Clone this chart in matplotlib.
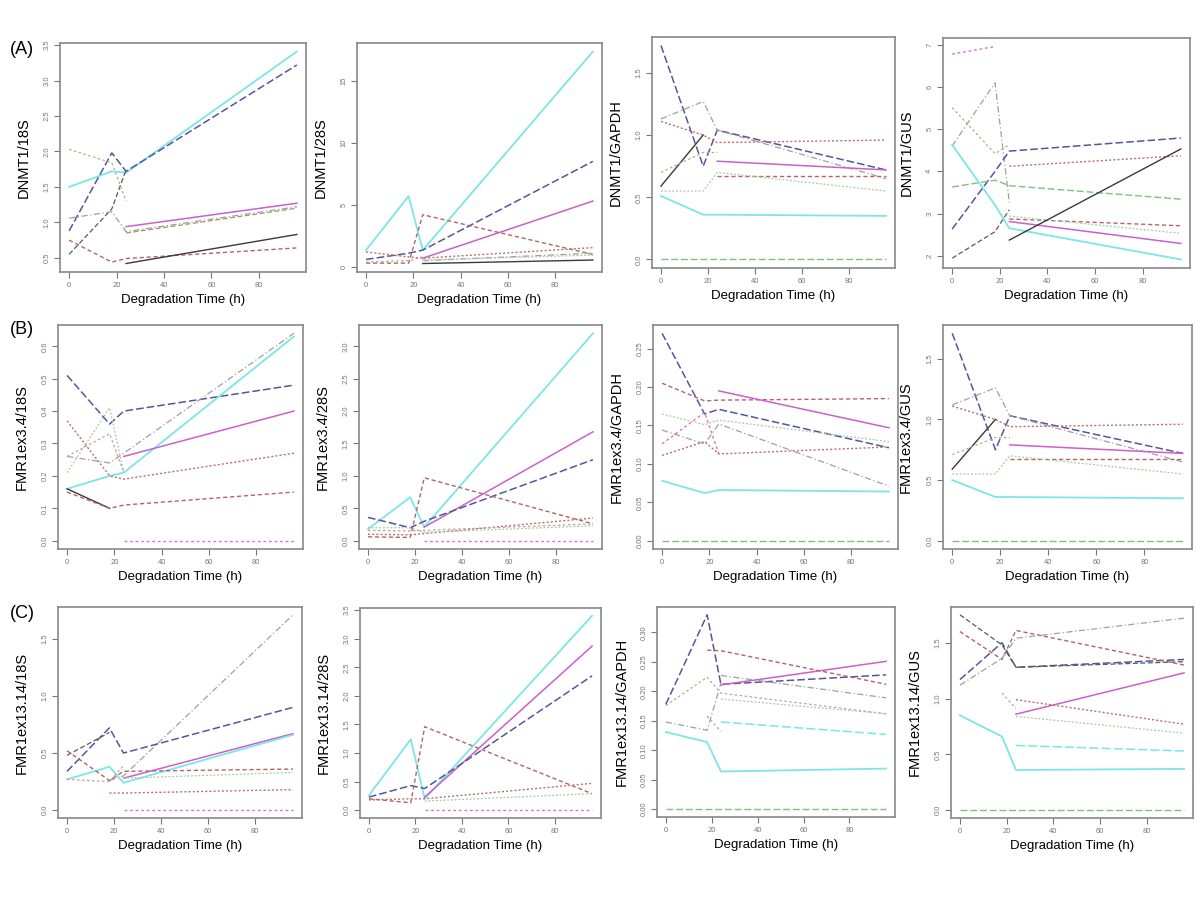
import matplotlib
matplotlib.use("Agg")
import matplotlib.pyplot as plt

plt.rcParams['font.family'] = ['Liberation Sans', 'DejaVu Sans']

# time points (h)
T = [0, 18, 24, 96]
T3 = [0, 18, 24]
T2 = [0, 18]
TL = [24, 96]
TM = [18, 24, 96]

x_ticks = [0, 20, 40, 60, 80]

# ---- row A: DNMT1 ----
dnmt1_18s = [
    ("cyan", T, [1.50, 1.72, 1.70, 3.41]),
    ("navy", T, [0.88, 1.98, 1.72, 3.22]),
    ("black_d", T3, [0.55, 1.19, 1.74]),
    ("gray", T, [1.06, 1.15, 0.87, 1.22]),
    ("tan", T3, [2.03, 1.84, 1.30]),
    ("magenta", TL, [0.94, 1.27]),
    ("olive", TL, [0.85, 1.20]),
    ("red", T, [0.75, 0.44, 0.49, 0.64]),
    ("black", TL, [0.42, 0.83]),
]
dnmt1_28s = [
    ("cyan", T, [1.35, 5.7, 1.35, 17.35]),
    ("navy", T, [0.6, 1.1, 1.35, 8.5]),
    ("magenta", TL, [0.7, 5.3]),
    ("red", T, [0.3, 0.3, 4.2, 1.0]),
    ("red_dot", T, [1.2, 0.8, 0.7, 1.55]),
    ("gray", TL, [0.5, 1.1]),
    ("black", TL, [0.27, 0.55]),
    ("green_dot", TL, [0.55, 0.95]),
    ("tan", T3, [0.4, 0.5, 0.8]),
]
dnmt1_gapdh = [
    ("navy", T, [1.72, 0.75, 1.04, 0.72]),
    ("gray", T, [1.13, 1.27, 1.04, 0.65]),
    ("red_dot", T, [1.11, 1.00, 0.94, 0.96]),
    ("black", T2, [0.59, 1.00]),
    ("tan", T3, [0.70, 0.86, 0.86]),
    ("magenta", TL, [0.79, 0.72]),
    ("red", TL, [0.67, 0.67]),
    ("green_dot", T, [0.55, 0.55, 0.70, 0.55]),
    ("cyan", T, [0.51, 0.36, 0.36, 0.35]),
    ("green", T, [0, 0, 0, 0]),
]
dnmt1_gus = [
    ("pink", T2, [6.78, 6.96]),
    ("gray", T3, [4.60, 6.10, 3.26]),
    ("tan", T3, [5.51, 4.42, 4.63]),
    ("cyan", T, [4.63, 3.20, 2.65, 1.91]),
    ("navy", T, [2.63, 4.00, 4.48, 4.79]),
    ("black_d", T3, [1.94, 2.57, 3.09]),
    ("red_dot", TL, [4.12, 4.37]),
    ("green", T, [3.63, 3.79, 3.66, 3.34]),
    ("red", TL, [2.87, 2.71]),
    ("green_dot", TL, [2.94, 2.53]),
    ("magenta", TL, [2.81, 2.29]),
    ("black", TL, [2.37, 4.53]),
]

# ---- row B: FMR1ex3.4 ----
fmr34_18s = [
    ("navy", T, [0.51, 0.36, 0.40, 0.48]),
    ("gray", T, [0.26, 0.24, 0.27, 0.64]),
    ("cyan", T, [0.16, 0.20, 0.21, 0.63]),
    ("magenta", TL, [0.26, 0.40]),
    ("red_dot", T, [0.37, 0.20, 0.19, 0.27]),
    ("green_dot", T3, [0.21, 0.41, 0.21]),
    ("tan", T3, [0.26, 0.33, 0.21]),
    ("black", T2, [0.16, 0.10]),
    ("red", T, [0.15, 0.10, 0.11, 0.15]),
    ("pink", TL, [0, 0]),
]
fmr34_28s = [
    ("cyan", T, [0.18, 0.67, 0.21, 3.20]),
    ("magenta", TL, [0.21, 1.68]),
    ("navy", T, [0.36, 0.20, 0.30, 1.25]),
    ("red", T, [0.06, 0.05, 0.97, 0.26]),
    ("red_dot", T, [0.10, 0.09, 0.11, 0.35]),
    ("green_dot", T, [0.20, 0.20, 0.13, 0.23]),
    ("tan", T, [0.16, 0.15, 0.16, 0.26]),
    ("pink", TL, [0, 0]),
]
fmr34_gapdh = [
    ("navy", T, [0.270, 0.165, 0.171, 0.121]),
    ("red", T, [0.205, 0.182, 0.183, 0.185]),
    ("magenta", TL, [0.195, 0.147]),
    ("green_dot", T, [0.165, 0.151, 0.157, 0.129]),
    ("gray", T, [0.144, 0.126, 0.152, 0.071]),
    ("pink", T3, [0.126, 0.167, 0.113]),
    ("red_dot", T, [0.111, 0.129, 0.113, 0.122]),
    ("cyan", T, [0.078, 0.062, 0.066, 0.064]),
    ("green", T, [0, 0, 0, 0]),
]
fmr34_gus = [
    ("navy", T, [1.71, 0.75, 1.03, 0.72]),
    ("gray", T, [1.12, 1.26, 1.03, 0.65]),
    ("red_dot", T, [1.11, 1.00, 0.94, 0.96]),
    ("black", T2, [0.59, 1.00]),
    ("tan", T3, [0.71, 0.85, 0.85]),
    ("magenta", TL, [0.79, 0.72]),
    ("red", TL, [0.67, 0.67]),
    ("green_dot", T, [0.55, 0.55, 0.70, 0.55]),
    ("cyan", T, [0.50, 0.36, 0.36, 0.35]),
    ("green", T, [0, 0, 0, 0]),
]

# ---- row C: FMR1ex13.14 ----
fmr1314_18s = [
    ("gray", TM, [0.26, 0.30, 1.71]),
    ("navy", T, [0.34, 0.72, 0.50, 0.90]),
    ("black_d", T2, [0.48, 0.68]),
    ("magenta", TL, [0.28, 0.67]),
    ("cyan", T, [0.27, 0.38, 0.24, 0.66]),
    ("green_dot", TL, [0.28, 0.33]),
    ("red", T, [0.52, 0.26, 0.34, 0.36]),
    ("tan", T3, [0.27, 0.25, 0.39]),
    ("red_dot", TM, [0.15, 0.15, 0.18]),
    ("pink", TL, [0, 0]),
]
fmr1314_28s = [
    ("cyan", T, [0.26, 1.24, 0.20, 3.40]),
    ("magenta", TL, [0.23, 2.87]),
    ("navy", T, [0.23, 0.43, 0.38, 2.35]),
    ("red", T, [0.20, 0.13, 1.46, 0.29]),
    ("red_dot", T, [0.18, 0.20, 0.20, 0.47]),
    ("green_dot", TL, [0.16, 0.29]),
    ("pink", TL, [0, 0]),
]
fmr1314_gapdh = [
    ("navy", T, [0.178, 0.330, 0.212, 0.228]),
    ("magenta", TL, [0.211, 0.251]),
    ("red", TM, [0.270, 0.269, 0.212]),
    ("gray", TL, [0.227, 0.189]),
    ("tan", T, [0.176, 0.224, 0.197, 0.162]),
    ("green_dot", TL, [0.187, 0.162]),
    ("gray", T3, [0.148, 0.134, 0.214]),
    ("tan", [18, 24], [0.158, 0.132]),
    ("cyan_d", TL, [0.148, 0.127]),
    ("cyan", T, [0.131, 0.114, 0.064, 0.069]),
    ("green", T, [0, 0, 0, 0]),
]
fmr1314_gus = [
    ("navy", T, [1.17, 1.50, 1.28, 1.35]),
    ("black_d", T, [1.75, 1.48, 1.28, 1.33]),
    ("red", T, [1.60, 1.35, 1.61, 1.30]),
    ("gray", T, [1.12, 1.36, 1.54, 1.72]),
    ("magenta", TL, [0.86, 1.23]),
    ("red_dot", TL, [0.99, 0.77]),
    ("tan", [18, 24], [1.05, 0.91]),
    ("green_dot", TL, [0.84, 0.69]),
    ("cyan_d", TL, [0.58, 0.53]),
    ("cyan", T, [0.85, 0.66, 0.36, 0.37]),
    ("green", T, [0, 0, 0, 0]),
]

y_labels = ["DNMT1/18S", "DNMT1/28S", "DNMT1/GAPDH", "DNMT1/GUS",
            "FMR1ex3.4/18S", "FMR1ex3.4/28S", "FMR1ex3.4/GAPDH", "FMR1ex3.4/GUS",
            "FMR1ex13.14/18S", "FMR1ex13.14/28S", "FMR1ex13.14/GAPDH", "FMR1ex13.14/GUS"]
y_ticks = [
    [0.5, 1.0, 1.5, 2.0, 2.5, 3.0, 3.5], [0, 5, 10, 15], [0.0, 0.5, 1.0, 1.5], [2, 3, 4, 5, 6, 7],
    [0.0, 0.1, 0.2, 0.3, 0.4, 0.5, 0.6], [0.0, 0.5, 1.0, 1.5, 2.0, 2.5, 3.0],
    [0.00, 0.05, 0.10, 0.15, 0.20, 0.25], [0.0, 0.5, 1.0, 1.5],
    [0.0, 0.5, 1.0, 1.5], [0.0, 0.5, 1.0, 1.5, 2.0, 2.5, 3.0, 3.5],
    [0.00, 0.05, 0.10, 0.15, 0.20, 0.25, 0.30], [0.0, 0.5, 1.0, 1.5],
]
y_fmt = ["%.1f", "%d", "%.1f", "%d", "%.1f", "%.1f", "%.2f", "%.1f", "%.1f", "%.1f", "%.2f", "%.1f"]
panel_data = [dnmt1_18s, dnmt1_28s, dnmt1_gapdh, dnmt1_gus,
              fmr34_18s, fmr34_28s, fmr34_gapdh, fmr34_gus,
              fmr1314_18s, fmr1314_28s, fmr1314_gapdh, fmr1314_gus]
row_tags = ["(A)", "(B)", "(C)"]

styles = {
    "cyan": dict(color="#7ae6e6", ls="-", lw=1.3),
    "cyan_d": dict(color="#7ae6e6", ls=(0, (6, 2)), lw=1.1),
    "magenta": dict(color="#cc5fcc", ls="-", lw=1.1),
    "navy": dict(color="#55559f", ls=(0, (5, 2)), lw=1.1),
    "black": dict(color="#3a3a3a", ls="-", lw=1.0),
    "black_d": dict(color="#5a5a5a", ls=(0, (4, 2)), lw=0.9),
    "gray": dict(color="#a0a0a0", ls=(0, (5, 2, 1, 2)), lw=0.9),
    "tan": dict(color="#c6a195", ls=(0, (2, 2)), lw=0.9),
    "olive": dict(color="#aa9466", ls=(0, (4, 2)), lw=0.9),
    "red": dict(color="#b46464", ls=(0, (3, 2)), lw=1.0),
    "red_dot": dict(color="#bb7070", ls=(0, (1.5, 1.5)), lw=1.0),
    "green": dict(color="#7fc07f", ls=(0, (5, 2)), lw=1.0),
    "green_dot": dict(color="#a2cba2", ls=(0, (1.5, 1.5)), lw=0.9),
    "pink": dict(color="#dd70cc", ls=(0, (2, 2)), lw=1.0),
}

# axes boxes in pixels: left, right, top, bottom
boxes = [
    (60, 306, 43, 272), (357, 602, 43, 272), (652, 895, 37, 268), (943, 1190, 38, 268),
    (58, 303, 325, 549), (359, 602, 325, 549), (653, 898, 325, 549), (943, 1192, 325, 549),
    (58, 302, 607, 818), (360, 601, 608, 818), (657, 895, 607, 817), (951, 1193, 607, 818),
]
W, H = 1200, 900
fig = plt.figure(figsize=(12, 9), dpi=100)

for i, series in enumerate(panel_data):
    l, r, t, b = boxes[i]
    ax = fig.add_axes([l / W, 1 - b / H, (r - l) / W, (b - t) / H])
    for key, xs, ys in series:
        ax.plot(xs, ys, **styles[key])
    ax.margins(x=0.04, y=0.04)
    ax.set_xticks(x_ticks)
    ax.set_xticklabels([str(v) for v in x_ticks])
    ax.set_yticks(y_ticks[i])
    ax.set_yticklabels([y_fmt[i] % v for v in y_ticks[i]], rotation=90, va="center")
    ax.tick_params(axis="both", labelsize=5.5, colors="#777777", length=4, width=0.8, pad=3)
    for s in ax.spines.values():
        s.set_color("#888888")
        s.set_linewidth(1.2)
    ax.set_ylabel(y_labels[i], fontsize=10.5)
    ax.yaxis.set_label_coords(-0.12, 0.5)
    ax.set_xlabel("Degradation Time (h)", fontsize=9.5, va="center")
    ax.xaxis.set_label_coords(0.5, -28.0 / (b - t))

for k, tag in enumerate(row_tags):
    y = [50, 330, 614][k]
    fig.text(10 / W, 1 - y / H, tag, fontsize=13, va="center", ha="left")

fig.savefig("out.png", dpi=100, facecolor="white")
